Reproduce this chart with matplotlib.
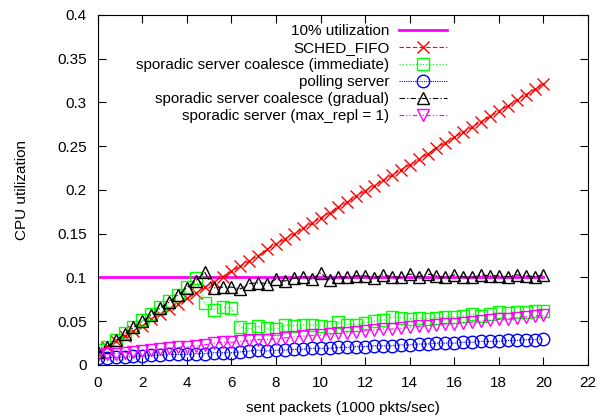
import matplotlib
matplotlib.use("Agg")
import matplotlib.pyplot as plt

plt.rcParams['font.family'] = ['Liberation Sans', 'DejaVu Sans']
plt.rcParams['font.size'] = 11

# sent packets (1000 pkts/sec)
x = [0.0, 0.4, 0.8, 1.2, 1.6, 2.0, 2.4, 2.8, 3.2, 3.6,
     4.0, 4.4, 4.8, 5.2, 5.6, 6.0, 6.4, 6.8, 7.2, 7.6,
     8.0, 8.4, 8.8, 9.2, 9.6, 10.0, 10.4, 10.8, 11.2, 11.6,
     12.0, 12.4, 12.8, 13.2, 13.6, 14.0, 14.4, 14.8, 15.2, 15.6,
     16.0, 16.4, 16.8, 17.2, 17.6, 18.0, 18.4, 18.8, 19.2, 19.6, 20.0]

util_x = [0, 20]
util_y = [0.1, 0.1]

fifo = [0.014, 0.020, 0.027, 0.033, 0.039, 0.045, 0.052, 0.058, 0.064, 0.070,
        0.076, 0.082, 0.089, 0.095, 0.101, 0.107, 0.113, 0.119, 0.125, 0.132,
        0.138, 0.144, 0.150, 0.156, 0.162, 0.168, 0.174, 0.180, 0.186, 0.193,
        0.199, 0.205, 0.211, 0.217, 0.223, 0.229, 0.235, 0.241, 0.248, 0.254,
        0.260, 0.266, 0.272, 0.278, 0.284, 0.290, 0.296, 0.303, 0.309, 0.315, 0.321]

immediate = [0.017, 0.021, 0.029, 0.036, 0.043, 0.051, 0.058, 0.066, 0.073, 0.080,
             0.089, 0.099, 0.071, 0.063, 0.066, 0.065, 0.043, 0.041, 0.044, 0.042,
             0.041, 0.046, 0.045, 0.046, 0.046, 0.045, 0.043, 0.049, 0.046, 0.046,
             0.048, 0.050, 0.051, 0.055, 0.054, 0.053, 0.054, 0.053, 0.054, 0.055,
             0.055, 0.056, 0.058, 0.056, 0.058, 0.060, 0.059, 0.060, 0.061, 0.062, 0.062]

polling = [0.008, 0.008, 0.009, 0.009, 0.010, 0.010, 0.011, 0.011, 0.012, 0.012,
           0.012, 0.013, 0.013, 0.014, 0.014, 0.014, 0.015, 0.016, 0.017, 0.016,
           0.017, 0.017, 0.018, 0.018, 0.019, 0.019, 0.019, 0.020, 0.020, 0.021,
           0.021, 0.022, 0.022, 0.022, 0.023, 0.023, 0.024, 0.024, 0.025, 0.025,
           0.025, 0.026, 0.026, 0.027, 0.027, 0.027, 0.028, 0.028, 0.029, 0.029, 0.030]

gradual = [0.015, 0.021, 0.028, 0.035, 0.043, 0.050, 0.057, 0.065, 0.072, 0.080,
           0.088, 0.096, 0.106, 0.088, 0.089, 0.089, 0.087, 0.093, 0.094, 0.093,
           0.098, 0.096, 0.099, 0.101, 0.098, 0.105, 0.097, 0.101, 0.100, 0.102,
           0.102, 0.099, 0.103, 0.101, 0.100, 0.104, 0.101, 0.104, 0.102, 0.100,
           0.103, 0.101, 0.100, 0.103, 0.102, 0.102, 0.101, 0.103, 0.102, 0.101, 0.103]

max_repl1 = [0.011, 0.012, 0.013, 0.014, 0.015, 0.016, 0.017, 0.018, 0.019, 0.020,
             0.021, 0.022, 0.023, 0.025, 0.026, 0.026, 0.027, 0.028, 0.029, 0.029,
             0.030, 0.031, 0.032, 0.033, 0.034, 0.034, 0.035, 0.036, 0.037, 0.038,
             0.039, 0.040, 0.041, 0.041, 0.042, 0.043, 0.044, 0.045, 0.046, 0.047,
             0.047, 0.048, 0.049, 0.050, 0.051, 0.052, 0.053, 0.054, 0.055, 0.056, 0.057]

xticks = [0, 2, 4, 6, 8, 10, 12, 14, 16, 18, 20, 22]
yticks = [0, 0.05, 0.1, 0.15, 0.2, 0.25, 0.3, 0.35, 0.4]
ytick_labels = ['0', '0.05', '0.1', '0.15', '0.2', '0.25', '0.3', '0.35', '0.4']

fig = plt.figure(figsize=(6, 4.16), dpi=100)
ax = fig.add_axes([0.163, 0.1226, 0.817, 0.8414])

ms = 8
ax.plot(util_x, util_y, color='#ff00ff', lw=2, label='10% utilization')
ax.plot(x, fifo, color='red', lw=0.8, ls=(0, (4, 2)), marker='x', ms=ms,
        mew=1, label='SCHED_FIFO')
ax.plot(x, immediate, color='#00ff00', lw=0.8, ls=(0, (1, 2)), marker='s', ms=ms,
        mfc='none', mew=1, label='sporadic server coalesce (immediate)')
ax.plot(x, polling, color='#0000ff', lw=0.8, ls=(0, (1, 1)), marker='o', ms=ms + 1,
        mfc='none', mew=1, label='polling server')
ax.plot(x, gradual, color='black', lw=0.8, ls=(0, (5, 2, 1, 2)), marker='^', ms=ms + 1,
        mfc='none', mew=1, label='sporadic server coalesce (gradual)')
ax.plot(x, max_repl1, color='#ff00ff', lw=0.8, ls=(0, (4, 2, 1, 2, 1, 2)), marker='v',
        ms=ms + 1, mfc='none', mew=1, label='sporadic server (max_repl = 1)')

ax.set_xlim(0, 22)
ax.set_ylim(0, 0.4)
ax.set_xticks(xticks)
ax.set_yticks(yticks)
ax.set_yticklabels(ytick_labels)
ax.tick_params(direction='in', length=6, top=True, right=True, pad=8)
ax.tick_params(axis='x', pad=8)
ax.set_xlabel('sent packets (1000 pkts/sec)', labelpad=8)
ax.set_ylabel('CPU utilization', labelpad=20)

ax.legend(loc='upper right', bbox_to_anchor=(0.735, 1.005), frameon=False,
          markerfirst=False, handlelength=3.2, handletextpad=0.6,
          labelspacing=0.2, borderpad=0.2)

fig.savefig('out.png', dpi=100)
